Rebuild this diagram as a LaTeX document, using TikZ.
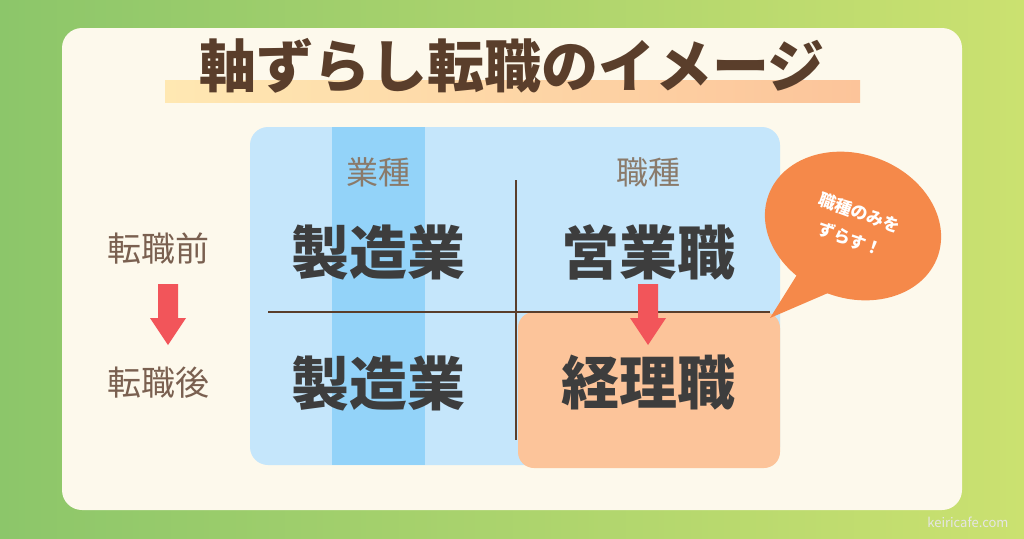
\documentclass[tikz,border=0pt]{standalone}
\usepackage{fontspec}
\newfontfamily\cjk{Noto Sans CJK JP}
\setmainfont{Noto Sans CJK JP}
\usetikzlibrary{shapes.geometric}
\definecolor{bgl}{HTML}{8CC66A}
\definecolor{bgr}{HTML}{CBE170}
\definecolor{card}{HTML}{FDF9EC}
\definecolor{brown}{HTML}{5A3E2B}
\definecolor{lblue}{HTML}{C5E6FB}
\definecolor{dblue}{HTML}{93D3F9}
\definecolor{peach}{HTML}{FCC49A}
\definecolor{redar}{HTML}{F2555A}
\definecolor{bub}{HTML}{F5894A}
\definecolor{gtext}{HTML}{8A7A6A}
\definecolor{ltext}{HTML}{7A6050}
\definecolor{big}{HTML}{3D3D3D}
\tikzset{
 head/.style={text=gtext,font=\fontsize{32}{34}\selectfont},
 side/.style={text=ltext,font=\fontsize{34}{36}\selectfont},
 job/.style={text=big,font=\bfseries\fontsize{58}{60}\selectfont},
 rline/.style={draw=brown,line width=2.5pt},
 darrow/.style={fill=redar}
}
\begin{document}
\begin{tikzpicture}[x=1pt,y=-1pt]
\useasboundingbox (0,0) rectangle (1024,538);
\shade[left color=bgl,right color=bgr] (0,0) rectangle (1024,538);
\fill[card,rounded corners=20] (62,28) rectangle (962,510);
\shade[left color=yellow!40!orange!30,right color=peach] (165,80) rectangle (860,102);
\node[text=brown,font=\bfseries\fontsize{57}{60}\selectfont] (title) at (512,66) {軸ずらし転職のイメージ};
\fill[lblue,rounded corners=18] (250,127) rectangle (780,465);
\fill[dblue] (332,127) rectangle (425,465);
\fill[peach,rounded corners=16] (518,312) rectangle (780,468);
\draw[rline] (516,180) -- (516,440);
\draw[rline] (268,312) -- (770,312);
\node[head] (h1) at (378,172) {業種};
\node[head] (h2) at (648,172) {職種};
\node[job] (a) at (378,252) {製造業};
\node[job] (b) at (648,252) {営業職};
\node[job] (c) at (378,383) {製造業};
\node[job] (d) at (648,383) {経理職};
\node[side] (s1) at (158,248) {転職前};
\node[side] (s2) at (158,383) {転職後};
\fill[darrow] (158,284) -- (178,284) -- (178,318) -- (186,318) -- (168,345) -- (150,318) -- (158,318) -- cycle;
\fill[darrow] (638,284) -- (658,284) -- (658,318) -- (666,318) -- (648,345) -- (630,318) -- (638,318) -- cycle;
\fill[bub] (800,270) -- (770,318) -- (835,290) -- cycle;
\fill[bub,rotate around={-20:(853,226)}] (853,226) ellipse [x radius=90,y radius=72];
\node[text=white,align=center,rotate=-20,font=\bfseries\fontsize{17}{28}\selectfont] (bt) at (855,226) {職種のみを\\ずらす！};
\node[text=gray!20,font=\fontsize{13}{15}\selectfont,anchor=east] (url) at (1012,522) {keiricafe.com};
\end{tikzpicture}
\end{document}
